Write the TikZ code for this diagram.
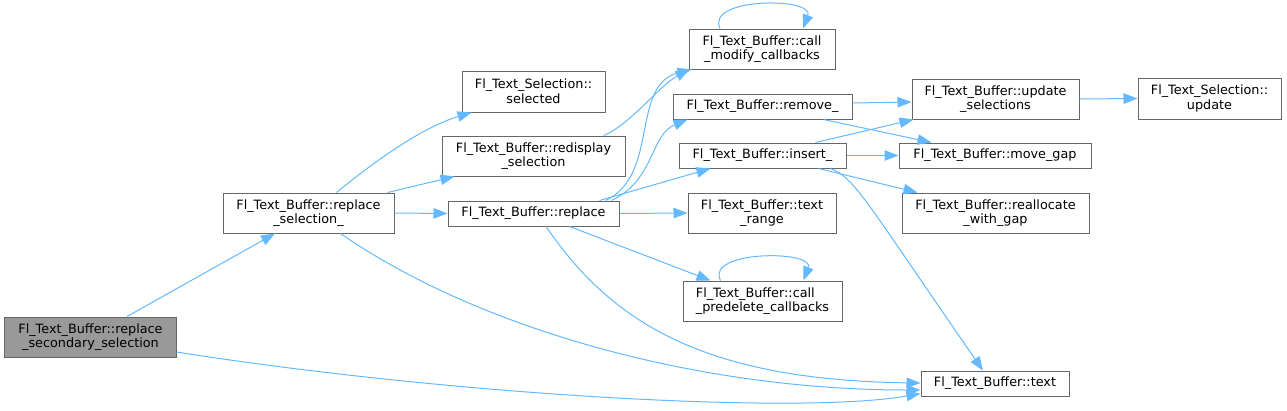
\documentclass[tikz,border=0pt]{standalone}
\usepackage{fontspec}
\setmainfont{DejaVu Sans}
\usetikzlibrary{arrows.meta,calc}
\definecolor{edgeblue}{HTML}{63B8FF}
\definecolor{boxborder}{HTML}{666666}
\definecolor{boxfill}{HTML}{999999}
\begin{document}
\begin{tikzpicture}[x=1bp,y=-1bp,
  box/.style={draw=boxborder,line width=1bp,fill=white,inner sep=0pt,align=center,
    font=\fontsize{12.8bp}{14.7bp}\selectfont},
  edge/.style={draw=edgeblue,line width=1bp,-{Triangle[length=14bp,width=10.5bp]}}]
\useasboundingbox (0,0) rectangle (1287,410);

\node[box,fill=boxfill,minimum width=171bp,minimum height=40bp] (A) at (90.5,337) {Fl\_Text\_Buffer::replace\\\_secondary\_selection};
\node[box,minimum width=171bp,minimum height=40bp] (B) at (308.5,213) {Fl\_Text\_Buffer::replace\\\_selection\_};
\node[box,minimum width=143bp,minimum height=41bp] (C) at (533.5,91.5) {Fl\_Text\_Selection::\\selected};
\node[box,minimum width=183bp,minimum height=40bp] (D) at (533.5,156) {Fl\_Text\_Buffer::redisplay\\\_selection};
\node[box,minimum width=171bp,minimum height=25bp] (E) at (533.5,213.5) {Fl\_Text\_Buffer::replace};
\node[box,minimum width=146bp,minimum height=40bp] (F) at (762,49) {Fl\_Text\_Buffer::call\\\_modify\_callbacks};
\node[box,minimum width=179bp,minimum height=25bp] (G) at (762.5,106.5) {Fl\_Text\_Buffer::remove\_};
\node[box,minimum width=167bp,minimum height=25bp] (H) at (762.5,155.5) {Fl\_Text\_Buffer::insert\_};
\node[box,minimum width=148bp,minimum height=40bp] (I) at (762,213) {Fl\_Text\_Buffer::text\\\_range};
\node[box,align=left,minimum width=159bp,minimum height=40bp] (J) at (762.5,301) {Fl\_Text\_Buffer::call\\\_predelete\_callbacks};
\node[box,minimum width=167bp,minimum height=40bp] (K) at (995.5,99) {Fl\_Text\_Buffer::update\\\_selections};
\node[box,minimum width=192bp,minimum height=25bp] (L) at (995,155.5) {Fl\_Text\_Buffer::move\_gap};
\node[box,minimum width=187bp,minimum height=40bp] (M) at (995.5,213) {Fl\_Text\_Buffer::reallocate\\\_with\_gap};
\node[box,minimum width=143bp,minimum height=41bp] (N) at (1209.5,98.5) {Fl\_Text\_Selection::\\update};
\node[box,minimum width=148bp,minimum height=25bp] (O) at (995,383.5) {Fl\_Text\_Buffer::text};

% A
\draw[edge] ($(A.north)+(36.5,0)$) -- ($(B.south)+(-33.5,0)$);
\draw[edge] ($(A.east)+(0,15)$) .. controls (450,395) and (800,415) .. ($(O.west)+(0,10)$);
% B
\draw[edge] ($(B.north)+(28,0)$) .. controls (370,165) and (420,128) .. ($(C.south west)+(10,0)$);
\draw[edge] ($(B.north east)+(-7,0)$) -- ($(D.south west)+(13,0)$);
\draw[edge] (B.east) -- (E.west);
\draw[edge] ($(B.south)+(32,0)$) .. controls (480,330) and (700,390) .. ($(O.west)+(0,6.5)$);
% D
\draw[edge] ($(D.north east)+(-22,0)$) .. controls (630,125) and (660,85) .. ($(F.south west)+(1,0)$);
% E
\draw[edge] ($(E.north)+(72,0)$) .. controls (660,175) and (630,85) .. ($(F.south west)+(3,0)$);
\draw[edge] ($(E.north)+(78,0)$) .. controls (655,180) and (650,135) .. ($(G.south west)+(15,0)$);
\draw[edge] ($(E.north)+(66,0)$) -- ($(H.south west)+(32,0)$);
\draw[edge] (E.east) -- (I.west);
\draw[edge] ($(E.south)+(36,0)$) -- ($(J.north west)+(28,0)$);
\draw[edge] ($(E.south)+(12.5,0)$) .. controls (610,320) and (700,380) .. ($(O.west)+(0,-0.5)$);
% self loops
\draw[edge] ($(F.north)+(-42,0)$) .. controls (705,-3) and (815,-3) .. ($(F.north)+(41,0)$);
\draw[edge] ($(J.north)+(-42,0)$) .. controls (705,250) and (815,250) .. ($(J.north)+(41,0)$);
% G
\draw[edge] ($(G.east)+(0,-3.5)$) -- ($(K.west)+(0,3)$);
\draw[edge] ($(G.south east)+(-29,0)$) -- ($(L.north west)+(33,0)$);
% H
\draw[edge] ($(H.north east)+(-31,0)$) -- ($(K.south west)+(2,0)$);
\draw[edge] (H.east) -- (L.west);
\draw[edge] ($(H.south east)+(-28,0)$) -- ($(M.north west)+(16,0)$);
\draw[edge] ($(H.south east)+(-16,0)$) .. controls (855,178) and (865,200) .. ($(O.north)+(-12,0)$);
% K
\draw[edge] (K.east) -- (N.west);
\end{tikzpicture}
\end{document}
